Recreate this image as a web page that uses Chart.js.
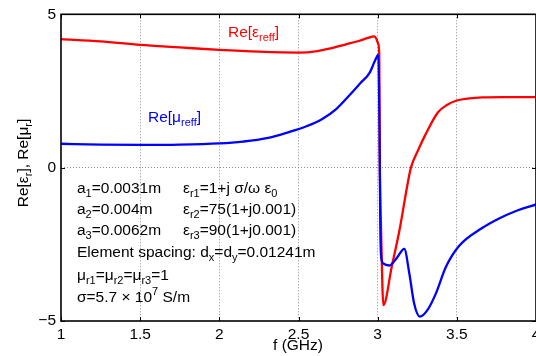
<!DOCTYPE html>
<html>
<head>
<meta charset="utf-8">
<script src="https://cdn.jsdelivr.net/npm/chart.js@4/dist/chart.umd.min.js"></script>
<style>
  html, body { margin: 0; padding: 0; background: #fff; }
  #wrap { width: 536px; height: 356px; }
</style>
</head>
<body>
<div id="wrap"><canvas id="c" width="536" height="356"></canvas></div>
<script>
// 数据
const epsFreq = [1.0, 1.25, 1.5, 1.75, 2.0, 2.25, 2.5, 2.62, 2.71, 2.8, 2.88, 2.94, 2.975, 2.99, 3.003, 3.01, 3.013, 3.022, 3.036, 3.09, 3.137, 3.19, 3.21, 3.26, 3.3, 3.38, 3.44, 3.5, 3.58, 3.66, 3.8, 4.0];
const epsRe = [4.19, 4.12, 4.0, 3.92, 3.84, 3.78, 3.75, 3.8, 3.9, 4.02, 4.13, 4.23, 4.28, 4.22, 4.05, 3.7, 0.5, -2.1, -4.48, -3.2, -2.06, -0.5, 0, 0.62, 1.06, 1.8, 2.05, 2.19, 2.26, 2.29, 2.3, 2.3];

const muFreq = [1.0, 1.25, 1.5, 1.75, 2.0, 2.15, 2.3, 2.44, 2.55, 2.65, 2.74, 2.82, 2.89, 2.95, 2.98, 3.004, 3.012, 3.017, 3.022, 3.035, 3.074, 3.12, 3.168, 3.2, 3.23, 3.267, 3.315, 3.368, 3.43, 3.515, 3.66, 3.77, 3.87, 4.0];
const muRe = [0.78, 0.75, 0.74, 0.75, 0.79, 0.85, 0.96, 1.16, 1.35, 1.59, 1.92, 2.35, 2.75, 3.1, 3.45, 3.68, 1.0, -2.06, -2.9, -3.12, -3.19, -2.95, -2.65, -3.45, -4.42, -4.86, -4.64, -4.1, -3.25, -2.55, -1.97, -1.65, -1.42, -1.2];

const xTicks = [1, 1.5, 2, 2.5, 3, 3.5, 4];
const yTicks = [-5, 0, 5];

const FONT = '"Liberation Sans", Arial, Helvetica, sans-serif';
const BIG = 15.5;
const SMALL = 11;

// 文本: _{下标} ^{上标}
function parseRich(str) {
    const parts = [];
    const re = /([_^])\{([^}]*)\}/g;
    let last = 0, m;
    while ((m = re.exec(str)) !== null) {
        if (m.index > last) parts.push([str.slice(last, m.index), '']);
        parts.push([m[2], m[1]]);
        last = re.lastIndex;
    }
    if (last < str.length) parts.push([str.slice(last), '']);
    return parts;
}

function richWidth(ctx, str) {
    let w = 0;
    for (const [t, m] of parseRich(str)) {
        ctx.font = (m ? SMALL : BIG) + 'px ' + FONT;
        w += ctx.measureText(t).width;
    }
    return w;
}

function drawRich(ctx, x, y, str, color) {
    ctx.fillStyle = color;
    ctx.textBaseline = 'alphabetic';
    ctx.textAlign = 'left';
    for (const [t, m] of parseRich(str)) {
        ctx.font = (m ? SMALL : BIG) + 'px ' + FONT;
        const dy = m === '_' ? 4 : m === '^' ? -7 : 0;
        ctx.fillText(t, x, y + dy);
        x += ctx.measureText(t).width;
    }
}

const notes = [
    [77, 193, 'a_{1}=0.0031m'], [183, 193, 'ε_{r1}=1+j σ/ω ε_{0}'],
    [77, 214, 'a_{2}=0.004m'], [183, 214, 'ε_{r2}=75(1+j0.001)'],
    [77, 235, 'a_{3}=0.0062m'], [183, 235, 'ε_{r3}=90(1+j0.001)'],
    [77, 257, 'Element spacing: d_{x}=d_{y}=0.01241m'],
    [77, 280, 'μ_{r1}=μ_{r2}=μ_{r3}=1'],
    [77, 302, 'σ=5.7 × 10^{7} S/m']
];

// 边框、内向刻度和文字
const decor = {
    id: 'decor',
    afterDraw(chart) {
        const { ctx, chartArea: a, scales: { x, y } } = chart;
        ctx.save();
        ctx.strokeStyle = '#000';
        ctx.lineWidth = 1;
        ctx.beginPath();
        xTicks.forEach(v => {
            const px = Math.round(x.getPixelForValue(v)) + 0.5;
            ctx.moveTo(px, a.bottom); ctx.lineTo(px, a.bottom - 4);
            ctx.moveTo(px, a.top); ctx.lineTo(px, a.top + 4);
        });
        yTicks.forEach(v => {
            const py = Math.round(y.getPixelForValue(v)) + 0.5;
            ctx.moveTo(a.left, py); ctx.lineTo(a.left + 4, py);
            ctx.moveTo(a.right, py); ctx.lineTo(a.right - 4, py);
        });
        ctx.stroke();
        ctx.lineWidth = 1.6;
        ctx.strokeRect(a.left, a.top, a.right - a.left, a.bottom - a.top);

        notes.forEach(([nx, ny, s]) => drawRich(ctx, nx, ny, s, '#000'));
        drawRich(ctx, 228, 37, 'Re[ε_{reff}]', '#ff0000');
        drawRich(ctx, 148, 122, 'Re[μ_{reff}]', '#0000ff');

        ctx.font = BIG + 'px ' + FONT;
        ctx.fillStyle = '#000';
        ctx.textAlign = 'center';
        ctx.textBaseline = 'middle';
        ctx.fillText('f (GHz)', 298, 346);

        const yl = 'Re[ε_{r}], Re[μ_{r}]';
        const w = richWidth(ctx, yl);
        ctx.translate(28, 163);
        ctx.rotate(-Math.PI / 2);
        drawRich(ctx, -w / 2, 0, yl, '#000');
        ctx.restore();
    }
};

const tickFont = { family: FONT, size: BIG };

new Chart(document.getElementById('c'), {
    type: 'line',
    data: {
        datasets: [
            {
                label: 'Re[ε_reff]',
                data: epsFreq.map((f, i) => ({ x: f, y: epsRe[i] })),
                borderColor: '#ff0000',
                borderWidth: 2.3,
                pointRadius: 0,
                cubicInterpolationMode: 'monotone',
                order: 1
            },
            {
                label: 'Re[μ_reff]',
                data: muFreq.map((f, i) => ({ x: f, y: muRe[i] })),
                borderColor: '#0000ff',
                borderWidth: 2.3,
                pointRadius: 0,
                cubicInterpolationMode: 'monotone',
                order: 0
            }
        ]
    },
    options: {
        responsive: false,
        animation: false,
        layout: { padding: { left: 0, right: 0, top: 11, bottom: 0 } },
        plugins: { legend: { display: false }, tooltip: { enabled: false } },
        scales: {
            x: {
                type: 'linear',
                min: 1,
                max: 4,
                afterBuildTicks: s => { s.ticks = xTicks.map(v => ({ value: v })); },
                afterFit: s => { s.height = 35; s.paddingLeft = 0; s.paddingRight = 0; },
                ticks: {
                    color: '#000',
                    font: tickFont,
                    padding: 4,
                    maxRotation: 0,
                    autoSkip: false,
                    callback: v => String(v)
                },
                grid: {
                    color: c => (c.tick && (c.tick.value === 1 || c.tick.value === 4)) ? 'rgba(0,0,0,0)' : '#8a8a8a',
                    lineWidth: 1,
                    drawTicks: false
                },
                border: { display: false, dash: [1, 2] }
            },
            y: {
                type: 'linear',
                min: -5,
                max: 5,
                afterBuildTicks: s => { s.ticks = yTicks.map(v => ({ value: v })); },
                afterFit: s => { s.width = 61; },
                ticks: {
                    color: '#000',
                    font: tickFont,
                    padding: 5,
                    callback: v => v < 0 ? '\u2212' + Math.abs(v) : String(v)
                },
                grid: {
                    color: c => (c.tick && Math.abs(c.tick.value) === 5) ? 'rgba(0,0,0,0)' : '#8a8a8a',
                    lineWidth: 1,
                    drawTicks: false
                },
                border: { display: false, dash: [1, 2] }
            }
        }
    },
    plugins: [decor]
});
</script>
</body>
</html>
